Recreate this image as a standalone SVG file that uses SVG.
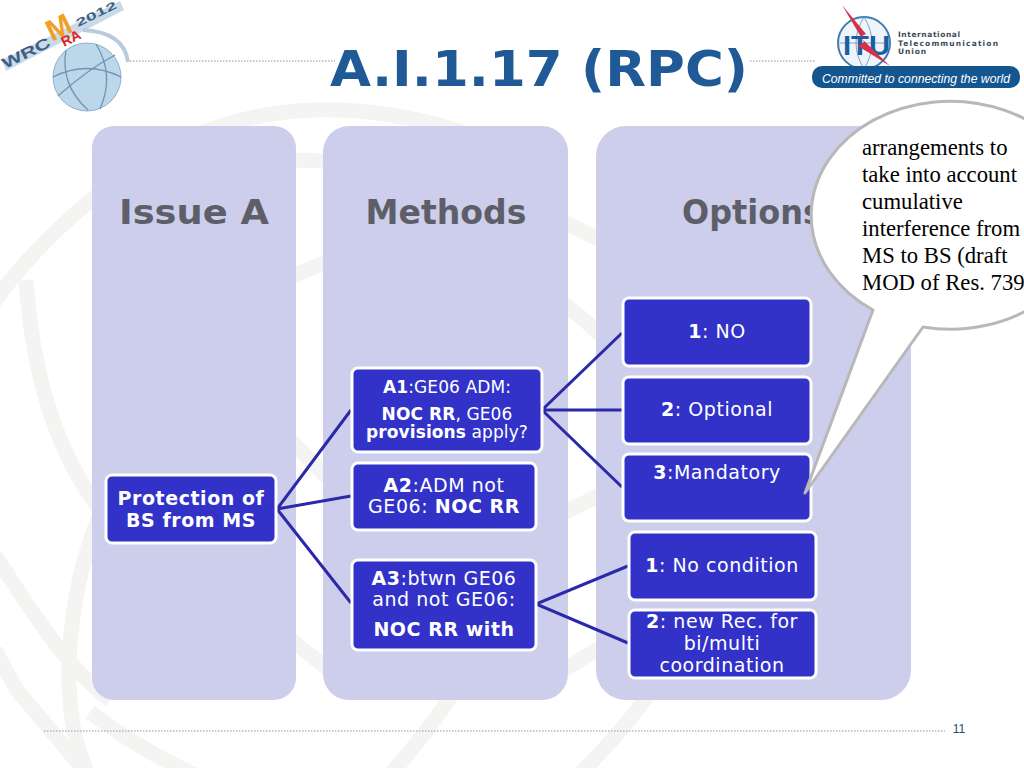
<svg xmlns="http://www.w3.org/2000/svg" width="1024" height="768" viewBox="0 0 1024 768">
<style>
.wm{fill:none;stroke:#f4f4f2;stroke-width:15}
.panel{fill:#cdcdec}
.box{fill:#3232c8;stroke:#fff;stroke-width:3}
.head{font:bold 34px "DejaVu Sans",sans-serif;fill:#5e5e68;text-anchor:middle}
.t{font:19px "DejaVu Sans",sans-serif;fill:#fff;text-anchor:middle;letter-spacing:.55px}
.s{font-size:17px;letter-spacing:.1px}
.b{font-weight:bold}
.c{fill:none;stroke:#2a2aa8;stroke-width:3}
.call{font:22.7px "Liberation Serif",serif;fill:#000}
.dot{stroke:#b4b8bc;stroke-width:1.5;stroke-dasharray:1.5 1.5;fill:none}
</style>
<g id="watermark">
<path class="wm" d="M-10,308Q40,235 130,170Q230,105 340,110Q410,113 470,135"/>
<path class="wm" d="M290,160Q450,160 600,240"/>
<path class="wm" d="M290,278C370,235 500,235 600,335"/>
<path class="wm" d="M26,280C32,370 55,450 100,510"/>
<path class="wm" d="M100,515C72,580 66,660 70,700C72,730 78,750 88,775"/>
<path class="wm" d="M-5,555C40,625 70,670 110,700"/>
<path class="wm" d="M-5,650L17,690L88,775"/>
<path class="wm" d="M90,712Q140,750 195,775"/>
<path class="wm" d="M285,435L335,485"/>
<path class="wm" d="M285,635L335,675"/>
<path class="wm" d="M560,515L600,495"/>
<path class="wm" d="M560,672L605,645"/>
<path class="wm" d="M452,695Q425,735 390,775"/>
<path class="wm" d="M648,695Q620,735 578,775"/>
</g>
<g id="header">
<path class="dot" d="M130,61H335M750,61H815"/>
<path class="dot" d="M44,731H945"/>
<text x="539" y="86" text-anchor="middle" style="font:bold 50px 'DejaVu Sans',sans-serif;fill:#1f5a96" textLength="418" lengthAdjust="spacingAndGlyphs">A.I.1.17 (RPC)</text>
<text x="959" y="733" text-anchor="middle" style="font:12px 'Liberation Sans',sans-serif;fill:#1d4f7c">11</text>
</g>
<g id="logo-wrc">
<path d="M2,60L120,1L124,10L6,71Z" fill="#c9dbe8"/>
<text transform="translate(5,69) rotate(-26)" style="font:bold 15px 'Liberation Sans',sans-serif;fill:#3f5f86" textLength="52" lengthAdjust="spacingAndGlyphs">WRC</text>
<text transform="translate(78,27) rotate(-26)" style="font:bold 11px 'Liberation Sans',sans-serif;fill:#3f5f86" textLength="44" lengthAdjust="spacingAndGlyphs">2012</text>
<path d="M83,30Q124,32 128,62" fill="none" stroke="#b9cbdc" stroke-width="4"/>
<circle cx="87" cy="77" r="34" fill="#bcd6ea" stroke="#8fb0cb"/>
<path d="M53,77Q87,60 121,77M58,96Q87,70 115,55M66,50Q60,85 88,110M96,44Q115,75 100,109" fill="none" stroke="#6f94b4" stroke-width="1.3"/>
<text transform="translate(52,42) rotate(-26)" style="font:bold 30px 'Liberation Sans',sans-serif;fill:#f0a028">M</text>
<text transform="translate(64,47) rotate(-26)" style="font:bold 14px 'Liberation Sans',sans-serif;fill:#d8261c">RA</text>
</g>
<g id="logo-itu">
<circle cx="864" cy="43" r="26" fill="#eef4f9" stroke="#3f7cae" stroke-width="2"/>
<path d="M838,43H890M864,17Q848,43 864,69M864,17Q880,43 864,69" fill="none" stroke="#7aa6c8"/>
<text x="843" y="55" style="font:bold 28px 'Liberation Sans',sans-serif;fill:#1a5fa0" textLength="47" lengthAdjust="spacingAndGlyphs">ITU</text>
<path d="M842,5L866,34L860,37L890,66L858,46L864,42Z" fill="#d8304a"/>
<g style="font:bold 7.5px 'DejaVu Sans',sans-serif;fill:#3c4a58"><text x="898" y="37" textLength="62" lengthAdjust="spacing">International</text><text x="898" y="46" textLength="100" lengthAdjust="spacing">Telecommunication</text><text x="898" y="54" textLength="28" lengthAdjust="spacing">Union</text></g>
<rect x="812" y="66" width="208" height="22" rx="10" fill="#14568f"/>
<text x="822" y="83" style="font:italic 12.5px 'Liberation Sans',sans-serif;fill:#fff" textLength="188" lengthAdjust="spacingAndGlyphs">Committed to connecting the world</text>
</g>
<g id="panel-issue"><rect class="panel" x="92" y="126" width="204" height="574" rx="22"/><text class="head" x="194" y="224" textLength="150" lengthAdjust="spacingAndGlyphs">Issue A</text></g>
<g id="panel-methods"><rect class="panel" x="323" y="126" width="245" height="574" rx="26"/><text class="head" x="446" y="224" textLength="161" lengthAdjust="spacingAndGlyphs">Methods</text></g>
<g id="panel-options"><rect class="panel" x="596" y="126" width="315" height="574" rx="30"/><text class="head" x="752" y="224" textLength="140" lengthAdjust="spacingAndGlyphs">Options</text></g>
<g id="connectors">
<path class="c" d="M351,410L277,509L351,496M277,509L351,603"/>
<path class="c" d="M622,333L542,410L622,487M542,410H622"/>
<path class="c" d="M628,566L536,604L628,643"/>
</g>
<g id="node-protection"><rect class="box" x="106" y="475" width="170" height="68" rx="6"/><text class="t b" x="191" y="505">Protection of</text><text class="t b" x="191" y="527">BS from MS</text></g>
<g id="node-a1"><rect class="box" x="352" y="368" width="190" height="84" rx="6"/><text class="t s" x="447" y="393"><tspan class="b">A1</tspan>:GE06 ADM:</text><text class="t s" x="447" y="420"><tspan class="b">NOC RR</tspan>, GE06</text><text class="t s" x="447" y="438"><tspan class="b">provisions</tspan> apply?</text></g>
<g id="node-a2"><rect class="box" x="352" y="463" width="184" height="67" rx="6"/><text class="t" x="444" y="492"><tspan class="b">A2</tspan>:ADM not</text><text class="t" x="444" y="513">GE06: <tspan class="b">NOC RR</tspan></text></g>
<g id="node-a3"><rect class="box" x="352" y="560" width="184" height="90" rx="6"/><text class="t" x="444" y="585"><tspan class="b">A3</tspan>:btwn GE06</text><text class="t" x="444" y="606">and not GE06:</text><text class="t b" x="444" y="636">NOC RR with</text></g>
<g id="node-o1"><rect class="box" x="623" y="298" width="188" height="68" rx="6"/><text class="t" x="717" y="338"><tspan class="b">1</tspan>: NO</text></g>
<g id="node-o2"><rect class="box" x="623" y="377" width="188" height="67" rx="6"/><text class="t" x="717" y="416"><tspan class="b">2</tspan>: Optional</text></g>
<g id="node-o3"><rect class="box" x="623" y="454" width="188" height="67" rx="6"/><text class="t" x="717" y="479"><tspan class="b">3</tspan>:Mandatory</text></g>
<g id="node-p1"><rect class="box" x="629" y="532" width="187" height="68" rx="6"/><text class="t" x="722" y="572"><tspan class="b">1</tspan>: No condition</text></g>
<g id="node-p2"><rect class="box" x="629" y="610" width="187" height="68" rx="6"/><text class="t" x="722" y="628"><tspan class="b">2</tspan>: new Rec. for</text><text class="t" x="722" y="650">bi/multi</text><text class="t" x="722" y="672">coordination</text></g>
<g id="callout"><path d="M923,327A139,114 0 1 0 873,310L805,493Z" fill="#fff" stroke="#b8b8b8" stroke-width="3" stroke-linejoin="round"/>
<g class="call"><text x="862" y="155">arrangements to</text><text x="862" y="182">take into account</text><text x="862" y="209">cumulative</text><text x="862" y="236">interference from</text><text x="862" y="263">MS to BS (draft</text><text x="862" y="290">MOD of Res. 739</text></g></g>
</svg>
